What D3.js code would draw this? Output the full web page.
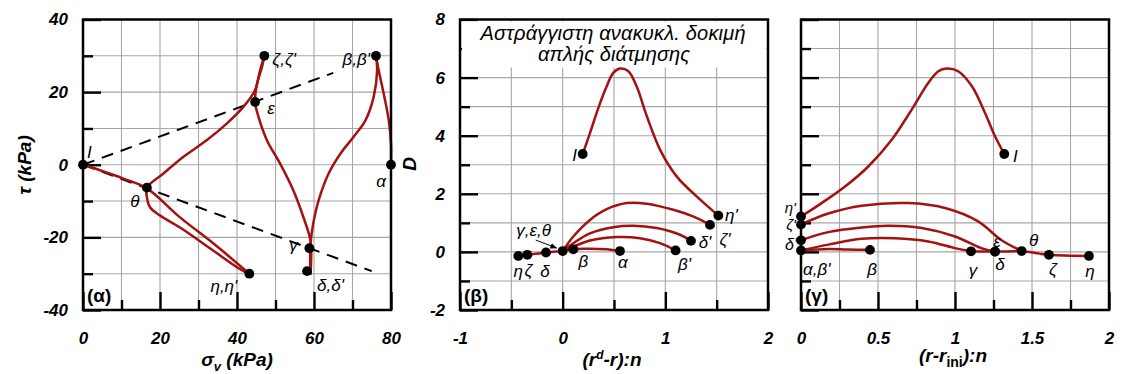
<!DOCTYPE html>
<html>
<head>
<meta charset="utf-8">
<script src="https://cdn.jsdelivr.net/npm/d3@7"></script>
<style>
  body { margin: 0; background: #fff; }
  svg text { font-family: "Liberation Sans", Arial, sans-serif; }
</style>
</head>
<body>
<script>
// ---------------- data ----------------
// (α) stress path in σv – τ space (kPa)
const pathAlphaBeta = [[80,0],[80,5.8],[79.4,12.4],[78.1,19.6],[76.8,26],[76.1,30]];
const pathBetaDelta = [[76.1,30],[76.4,26],[75.5,18.7],[73.4,12.3],[70.3,7.7],[66.9,3.1],[63.8,-2.4],[61.2,-9.8],[59.8,-16.2],[59.1,-21.7],[59,-25.5],[59.1,-30]];
const pathDeltaZeta = [[59.1,-30],[59.1,-21],[57.3,-14.6],[54.7,-7.2],[51.2,0.3],[47.8,6.7],[45.6,13.1],[44.7,17.3],[45.2,22.3],[46.5,26.9],[47.1,30]];
const pathZetaEta   = [[47.1,30],[46.0,26],[44.7,20.6],[41.7,16],[37.4,11.4],[32.2,6.8],[26.1,2.2],[20.9,-2.4],[16.6,-6.3],[16.6,-8.9],[17.4,-11.7],[20,-14],[25.2,-17.3],[33.9,-23.7],[40.9,-28.8],[43.2,-30]];
const pathEtaI      = [[43.2,-30],[33.9,-21.7],[25.2,-14.5],[16.6,-6.5],[10.5,-3.8],[4.4,-1.5],[0,0]];
const phaseLineUpper = [[0,0],[65,25.3]];
const phaseLineLower = [[0,0],[75,-29.3]];
const pointsA = [
  {id:"I", x:0,    y:0,     text:"I"},
  {id:"θ", x:16.6, y:-6.3,  text:"θ"},
  {id:"ε", x:44.7, y:17.3,  text:"ε"},
  {id:"ζ", x:47.1, y:30,    text:"ζ,ζ'"},
  {id:"β", x:76.1, y:30,    text:"β,β'"},
  {id:"α", x:80,   y:0,     text:"α"},
  {id:"γ", x:58.8, y:-23,   text:"γ"},
  {id:"δ", x:58.2, y:-29.3, text:"δ,δ'"},
  {id:"η", x:43.2, y:-30,   text:"η,η'"}
];

// (β) D versus (r^d - r):n
const bCurveI    = [[0.195,3.37],[0.266,4.09],[0.347,4.95],[0.429,5.7],[0.493,6.16],[0.558,6.31],[0.64,6.22],[0.72,5.7],[0.82,4.67],[0.948,3.52],[1.11,2.6],[1.305,1.91],[1.516,1.25]];
const bArcZeta   = [[0,0.03],[0.104,0.53],[0.266,1.10],[0.429,1.47],[0.624,1.68],[0.818,1.66],[1.078,1.45],[1.27,1.22],[1.435,0.93]];
const bArcDelta  = [[0,0.03],[0.104,0.3],[0.266,0.64],[0.493,0.85],[0.688,0.9],[0.916,0.82],[1.143,0.59],[1.25,0.38]];
const bArcBeta   = [[0,0.03],[0.104,0.18],[0.266,0.39],[0.526,0.51],[0.753,0.47],[0.948,0.3],[1.10,0.05]];
const bArcAlpha  = [[0,0.03],[0.104,0.09],[0.2,0.11],[0.43,0.09],[0.558,0.03]];
const bBaseLine  = [[-0.432,-0.14],[-0.344,-0.1],[-0.162,-0.02],[0,0.03]];
const pointsB = [
  {id:"η",  x:-0.432, y:-0.14, text:"η"},
  {id:"ζ",  x:-0.344, y:-0.1,  text:"ζ"},
  {id:"δ",  x:-0.162, y:-0.02, text:"δ"},
  {id:"o",  x:0,      y:0.03,  text:""},
  {id:"β",  x:0.104,  y:0.09,  text:"β"},
  {id:"α",  x:0.558,  y:0.03,  text:"α"},
  {id:"β'", x:1.10,   y:0.05,  text:"β'"},
  {id:"δ'", x:1.25,   y:0.38,  text:"δ'"},
  {id:"ζ'", x:1.435,  y:0.93,  text:"ζ'"},
  {id:"η'", x:1.516,  y:1.25,  text:"η'"},
  {id:"I",  x:0.195,  y:3.37,  text:"I"}
];

// (γ) D versus (r - r_ini):n
const cCurveI   = [[0,1.22],[0.134,1.68],[0.286,2.25],[0.437,2.94],[0.589,3.86],[0.719,4.9],[0.827,5.82],[0.892,6.22],[0.946,6.31],[1.02,6.22],[1.11,5.7],[1.195,4.78],[1.26,3.98],[1.32,3.37]];
const cArcZeta  = [[0,0.94],[0.177,1.32],[0.394,1.59],[0.697,1.68],[0.935,1.51],[1.15,1.05],[1.3,0.41],[1.433,0.03]];
const cArcDelta = [[0,0.4],[0.177,0.68],[0.394,0.84],[0.567,0.9],[0.784,0.82],[1.0,0.53],[1.17,0.13],[1.26,0.01]];
const cArcGamma = [[0,0.05],[0.177,0.25],[0.394,0.45],[0.61,0.47],[0.827,0.36],[1.0,0.13],[1.104,0.02]];
const cArcBeta  = [[0,0.05],[0.177,0.1],[0.3,0.08],[0.448,0.07]];
const cBaseLine = [[1.104,0.02],[1.26,0.01],[1.433,0.02],[1.61,-0.1],[1.87,-0.14]];
const pointsC = [
  {id:"η'", x:0,     y:1.22,  text:"η'"},
  {id:"ζ'", x:0,     y:0.94,  text:"ζ'"},
  {id:"δ'", x:0,     y:0.4,   text:"δ'"},
  {id:"α",  x:0,     y:0.05,  text:"α,β'"},
  {id:"β",  x:0.448, y:0.07,  text:"β"},
  {id:"γ",  x:1.104, y:0.02,  text:"γ"},
  {id:"δ",  x:1.26,  y:0.01,  text:"δ"},
  {id:"ε",  x:1.26,  y:0.01,  text:"ε"},
  {id:"θ",  x:1.433, y:0.03,  text:"θ"},
  {id:"ζ",  x:1.61,  y:-0.1,  text:"ζ"},
  {id:"η",  x:1.87,  y:-0.14, text:"η"},
  {id:"I",  x:1.32,  y:3.37,  text:"I"}
];

// tick values
const aMajorTicks = [0,20,40,60,80];
const aMinorTicks = [10,30,50,70];
const aYMajorTicks = [-40,-20,0,20,40];
const aYMinorTicks = [-30,-10,10,30];
const bXMajorTicks = [-1,0,1,2];
const bXMinorTicks = [-0.5,0.5,1.5];
const dYMajorTicks = [-2,0,2,4,6,8];
const dYMinorTicks = [-1,1,3,5,7];
const cXMajorTicks = [0,0.5,1,1.5,2];
const cXMinorTicks = [0.25,0.75,1.25,1.75];

// ---------------- drawing ----------------
const RED = "#a31212";
const W = 1121, H = 374;
const svg = d3.select("body").append("svg").attr("width", W).attr("height", H)
  .style("background", "#fff");

const TOP = 19.5, BOTTOM = 310;
const fmt = d => String(d);   // plain hyphen for negatives

function makePanel(left, right, xDomain, yDomain, xGrid, yGrid) {
  const x = d3.scaleLinear().domain(xDomain).range([left, right]);
  const y = d3.scaleLinear().domain(yDomain).range([BOTTOM, TOP]);
  const g = svg.append("g");
  const grid = g.append("g").attr("stroke", "#a6a6a6").attr("stroke-width", 1.1);
  grid.selectAll("line.vx").data(xGrid).join("line")
    .attr("x1", d => x(d)).attr("x2", d => x(d)).attr("y1", TOP).attr("y2", BOTTOM);
  grid.selectAll("line.hy").data(yGrid).join("line")
    .attr("y1", d => y(d)).attr("y2", d => y(d)).attr("x1", left).attr("x2", right);
  return {g, x, y, left, right};
}

function axes(p, xMajor, xMinor, yMajor, yMinor, yLabels) {
  const style = s => s.call(a => a.select(".domain").remove())
    .call(a => a.selectAll("line").attr("stroke", "#000").attr("stroke-width", 2.4))
    .call(a => a.selectAll("text").attr("fill", "#000")
      .style("font-size", "17px").style("font-weight", "bold").style("font-style", "italic")
      .style("font-family", '"Liberation Sans", Arial, sans-serif'));
  p.g.append("g").attr("transform", `translate(0,${BOTTOM})`)
    .call(d3.axisBottom(p.x).tickValues(xMinor).tickSize(-10).tickFormat(""))
    .call(style);
  p.g.append("g").attr("transform", `translate(0,${BOTTOM})`)
    .call(d3.axisBottom(p.x).tickValues(xMajor).tickSize(-18).tickPadding(22).tickFormat(fmt))
    .call(style);
  p.g.append("g").attr("transform", `translate(${p.left},0)`)
    .call(d3.axisLeft(p.y).tickValues(yMinor).tickSize(-10).tickFormat(""))
    .call(style);
  p.g.append("g").attr("transform", `translate(${p.left},0)`)
    .call(d3.axisLeft(p.y).tickValues(yMajor).tickSize(-18).tickPadding(15)
      .tickFormat(yLabels ? fmt : ""))
    .call(style);
}

function frame(p) {
  p.g.append("rect").attr("x", p.left).attr("y", TOP)
    .attr("width", p.right - p.left).attr("height", BOTTOM - TOP)
    .attr("fill", "none").attr("stroke", "#000").attr("stroke-width", 2.5);
}

function curve(p, data) {
  const line = d3.line().x(d => p.x(d[0])).y(d => p.y(d[1]))
    .curve(d3.curveCatmullRom.alpha(0.5));
  p.g.append("path").datum(data).attr("d", line)
    .attr("fill", "none").attr("stroke", RED).attr("stroke-width", 2.5)
    .attr("stroke-linejoin", "round").attr("stroke-linecap", "round");
}

function dots(p, pts) {
  p.g.selectAll(null).data(pts).join("circle")
    .attr("cx", d => p.x(d.x)).attr("cy", d => p.y(d.y)).attr("r", 4.9).attr("fill", "#000");
}

function labels(p, pts, place, size) {
  pts.filter(d => place[d.id]).forEach(d => {
    const [dx, dy, anchor, fs] = place[d.id];
    p.g.append("text").attr("x", p.x(d.x) + dx).attr("y", p.y(d.y) + dy)
      .attr("text-anchor", anchor).attr("dominant-baseline", "central")
      .style("font-size", (fs || size || 17) + "px").style("font-style", "italic").attr("fill", "#000")
      .text(d.text);
  });
}

function panelTag(p, txt) {
  p.g.append("text").attr("x", p.left + 4).attr("y", BOTTOM - 8)
    .style("font-size", "19px").style("font-weight", "bold").attr("fill", "#000")
    .text(txt);
}

// ---- panel (α)
const pa = makePanel(83, 391, [0, 80], [-40, 40], d3.range(10, 80, 10), d3.range(-30, 40, 10));
axes(pa, aMajorTicks, aMinorTicks, aYMajorTicks, aYMinorTicks, true);
[phaseLineUpper, phaseLineLower].forEach(l => {
  pa.g.append("line").attr("x1", pa.x(l[0][0])).attr("y1", pa.y(l[0][1]))
    .attr("x2", pa.x(l[1][0])).attr("y2", pa.y(l[1][1]))
    .attr("stroke", "#000").attr("stroke-width", 2).attr("stroke-dasharray", "12,8");
});
[pathAlphaBeta, pathBetaDelta, pathDeltaZeta, pathZetaEta, pathEtaI].forEach(d => curve(pa, d));
dots(pa, pointsA);
labels(pa, pointsA, {
  "I": [4, -12, "start"], "θ": [-12, 14, "middle"], "ε": [16, 7, "middle"],
  "ζ": [8, 4, "start"], "β": [-6, 4, "end"], "α": [-10, 17, "middle"],
  "γ": [-16, -3, "middle"], "δ": [10, 14, "start"], "η": [-12, 13, "end"]
});
frame(pa);
panelTag(pa, "(α)");

// ---- panel (β)
const pb = makePanel(460, 768, [-1, 2], [-2, 8], [-0.5, 0, 0.5, 1, 1.5], d3.range(-1, 8, 1));
axes(pb, bXMajorTicks, bXMinorTicks, dYMajorTicks, dYMinorTicks, true);
// title box
pb.g.append("rect").attr("x", pb.left + 2).attr("y", TOP + 2)
  .attr("width", pb.right - pb.left - 4).attr("height", 46).attr("fill", "#fff");
pb.g.append("text").attr("x", 613).attr("y", 40).attr("text-anchor", "middle")
  .attr("textLength", 265).attr("lengthAdjust", "spacing")
  .style("font-size", "20px").style("font-style", "italic").text("Αστράγγιστη ανακυκλ. δοκιμή");
pb.g.append("text").attr("x", 614).attr("y", 61).attr("text-anchor", "middle")
  .attr("textLength", 152).attr("lengthAdjust", "spacing")
  .style("font-size", "20px").style("font-style", "italic").text("απλής διάτμησης");
[bCurveI, bArcZeta, bArcDelta, bArcBeta, bArcAlpha, bBaseLine].forEach(d => curve(pb, d));
dots(pb, pointsB);
labels(pb, pointsB, {
  "η": [0, 16, "middle"], "ζ": [1, 16, "middle"], "δ": [-1, 19, "middle"],
  "β": [10, 12, "middle"], "α": [3, 11, "middle"], "β'": [9, 14, "middle"],
  "δ'": [14, 2, "middle"], "ζ'": [15, 15, "middle"], "η'": [13, 0, "middle"],
  "I": [-8, 1, "middle"]
});
// γ,ε,θ callout with arrow
const origin = pointsB.find(d => d.id === "o");
pb.g.append("text").attr("x", pb.x(origin.x) - 29).attr("y", pb.y(origin.y) - 21)
  .attr("text-anchor", "middle").attr("dominant-baseline", "central")
  .style("font-size", "17px").style("font-style", "italic").text("γ,ε,θ");
pb.g.append("defs").append("marker").attr("id", "ah").attr("viewBox", "0 0 10 10")
  .attr("refX", 9).attr("refY", 5).attr("markerWidth", 7).attr("markerHeight", 7)
  .attr("orient", "auto").append("path").attr("d", "M0,1 L10,5 L0,9 Z").attr("fill", "#000");
pb.g.append("line")
  .attr("x1", pb.x(origin.x) - 27).attr("y1", pb.y(origin.y) - 11)
  .attr("x2", pb.x(origin.x) - 6).attr("y2", pb.y(origin.y) - 3)
  .attr("stroke", "#000").attr("stroke-width", 1).attr("marker-end", "url(#ah)");
frame(pb);
panelTag(pb, "(β)");

// ---- panel (γ)
const pc = makePanel(801, 1109, [0, 2], [-2, 8], d3.range(0.25, 2, 0.25), d3.range(-1, 8, 1));
axes(pc, cXMajorTicks, cXMinorTicks, dYMajorTicks, dYMinorTicks, false);
[cCurveI, cArcZeta, cArcDelta, cArcGamma, cArcBeta, cBaseLine].forEach(d => curve(pc, d));
dots(pc, pointsC);
labels(pc, pointsC, {
  "η'": [-5, -9, "end", 15], "ζ'": [-5, 0, "end", 15], "δ'": [-4, 4, "end", 16],
  "α": [2, 19, "start"], "β": [2, 20, "middle"], "γ": [2, 19, "middle"],
  "δ": [5, 13, "middle"], "ε": [2, -10, "middle"], "θ": [12, -11, "middle"],
  "ζ": [4, 15, "middle"], "η": [1, 16, "middle"], "I": [11, 2, "middle"]
});
frame(pc);
panelTag(pc, "(γ)");

// ---- axis titles
const titleStyle = s => s.style("font-size", "19px").style("font-weight", "bold")
  .style("font-style", "italic").attr("fill", "#000");

const tx = svg.append("text").attr("x", 237).attr("y", 366).attr("text-anchor", "middle").call(titleStyle);
tx.append("tspan").text("σ");
tx.append("tspan").attr("dy", 5).style("font-size", "13px").text("v");
tx.append("tspan").attr("dy", -5).text(" (kPa)");

svg.append("text").attr("transform", "translate(31,165) rotate(-90)")
  .attr("text-anchor", "middle").call(titleStyle).text("τ (kPa)");

svg.append("text").attr("transform", "translate(416,164) rotate(-90)")
  .attr("text-anchor", "middle").call(titleStyle).text("D");

const tb = svg.append("text").attr("x", 612).attr("y", 366).attr("text-anchor", "middle").call(titleStyle);
tb.append("tspan").text("(r");
tb.append("tspan").attr("dy", -7).style("font-size", "12px").text("d");
tb.append("tspan").attr("dy", 7).text("-r):n");

const tc = svg.append("text").attr("x", 953).attr("y", 362).attr("text-anchor", "middle").call(titleStyle);
tc.append("tspan").text("(r-r");
tc.append("tspan").attr("dy", 5).style("font-size", "14px").style("font-style", "normal").text("ini");
tc.append("tspan").attr("dy", -5).text("):n");
</script>
</body>
</html>
